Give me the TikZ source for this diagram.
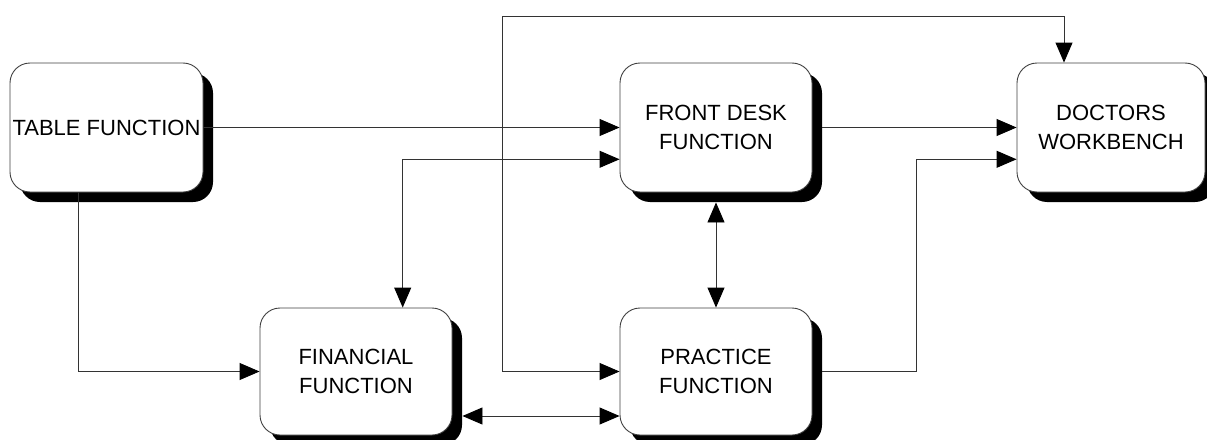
\documentclass[tikz,border=0pt]{standalone}
\usepackage{fontspec}
\setmainfont{Liberation Sans}
\usetikzlibrary{arrows.meta,shadows,calc}
\begin{document}
\begin{tikzpicture}[x=1pt,y=-1pt,
  fbox/.style={draw=black!75, line width=0.9pt, fill=white, rounded corners=20pt,
    align=center, font=\fontsize{22}{28.5}\selectfont, inner sep=0pt,
    drop shadow={shadow xshift=10pt, shadow yshift=-10pt, fill=black, opacity=1}},
  tipend/.tip={Triangle[length=20pt,width=17pt,color=black]},
  conn/.style={draw=black!80, line width=0.9pt, -tipend},
  biconn/.style={draw=black!80, line width=0.9pt, tipend-tipend}]
\useasboundingbox (0,0) rectangle (1207,439);

\node[fbox, minimum width=193pt, minimum height=129pt] (table) at (106.5,127.5) {TABLE FUNCTION};
\node[fbox, minimum width=192pt, minimum height=129pt] (front) at (716,127.5) {FRONT DESK\\FUNCTION};
\node[fbox, minimum width=188pt, minimum height=129pt] (doc) at (1111,127.5) {DOCTORS\\WORKBENCH};
\node[fbox, minimum width=192pt, minimum height=127pt] (fin) at (356,371.5) {FINANCIAL\\FUNCTION};
\node[fbox, minimum width=192pt, minimum height=127pt] (prac) at (716,371.5) {PRACTICE\\FUNCTION};

\coordinate (j1) at (502,127.5);
\coordinate (t1) at (502,16);
\coordinate (t2) at (1064,16);
\coordinate (tb) at (78,0);
\coordinate (c159) at (402.7,159.3);
\coordinate (c416) at (0,416);
\coordinate (c916) at (916.5,159.3);

\draw[conn] (table.east) -- (front.west);
\draw[conn] (table.east) -- (j1) -- (t1) -- (t2) -- (t2 |- doc.north);
\draw[conn] (table.east) -- (j1) |- (prac.west);
\draw[conn] (table.south -| tb) |- (fin.west);
\draw[biconn] (front.west |- c159) -| (fin.north -| c159);
\draw[biconn] ([yshift=-10pt]front.south) -- (prac.north);
\draw[biconn] ([xshift=10pt]fin.east |- c416) -- (prac.west |- c416);
\draw[conn] ([xshift=10pt]front.east) -- (doc.west);
\draw[conn] ([xshift=10pt]prac.east) -| (c916) -- (doc.west |- c916);
\end{tikzpicture}
\end{document}
